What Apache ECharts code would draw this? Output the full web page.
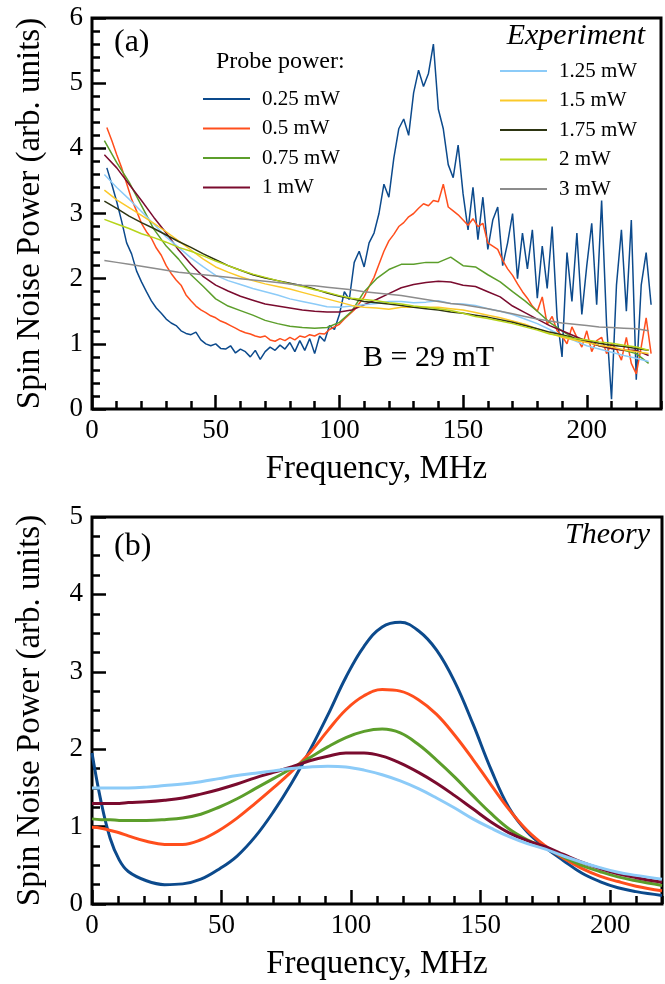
<!DOCTYPE html>
<html>
<head>
<meta charset="utf-8">
<script src="https://cdn.jsdelivr.net/npm/echarts@6.0.0/dist/echarts.min.js"></script>
<style>html,body{margin:0;padding:0;background:#fff}#chart{width:665px;height:984px}</style>
</head>
<body>
<div id="chart"></div>
<script>
// (a) experiment. noisy curves (0.25 / 0.5 mW) read every 2 MHz from 6 MHz, the rest every 5 MHz from 5 MHz
const p025 = [3.70, 3.45, 3.18, 2.88, 2.55, 2.38, 2.12, 1.95, 1.80, 1.66,
  1.55, 1.47, 1.38, 1.32, 1.28, 1.20, 1.16, 1.14, 1.18, 1.06,
  1.00, 0.97, 1.00, 0.93, 0.92, 0.97, 0.86, 0.92, 0.88, 0.80,
  0.90, 0.76, 0.88, 0.95, 0.90, 0.98, 0.92, 1.02, 0.88, 1.05,
  0.90, 1.08, 0.85, 1.12, 1.04, 1.28, 1.22, 1.45, 1.80, 1.68,
  2.25, 2.42, 2.18, 2.55, 2.70, 3.00, 3.45, 3.25, 3.85, 4.30,
  4.45, 4.20, 4.85, 5.20, 4.95, 5.15, 5.60, 4.60, 4.30, 3.75,
  3.55, 4.05, 3.30, 2.75, 3.40, 2.60, 3.25, 2.45, 2.90, 3.10,
  2.20, 2.55, 3.00, 2.00, 2.70, 2.15, 2.75, 1.70, 2.50, 1.85,
  2.80, 1.40, 0.80, 2.40, 1.65, 2.70, 1.45, 2.20, 2.85, 1.60,
  3.20, 1.30, 0.15, 1.90, 2.75, 1.50, 2.90, 0.45, 1.90, 2.40, 1.60];
const p05 = [4.32, 4.12, 3.90, 3.70, 3.46, 3.22, 3.04, 2.85, 2.72, 2.62,
  2.47, 2.36, 2.20, 2.08, 1.98, 1.90, 1.75, 1.66, 1.58, 1.52,
  1.48, 1.43, 1.40, 1.35, 1.32, 1.28, 1.24, 1.20, 1.17, 1.15,
  1.12, 1.10, 1.12, 1.06, 1.04, 1.08, 1.05, 1.10, 1.06, 1.12,
  1.10, 1.14, 1.12, 1.16, 1.15, 1.22, 1.26, 1.30, 1.38, 1.45,
  1.52, 1.62, 1.72, 1.88, 2.02, 2.22, 2.42, 2.58, 2.68, 2.80,
  2.86, 2.95, 3.00, 3.08, 3.15, 3.12, 3.20, 3.18, 3.45, 3.10,
  3.04, 2.98, 2.90, 2.82, 2.92, 2.80, 2.85, 2.55, 2.50, 2.45,
  2.28, 2.15, 2.05, 1.92, 1.80, 1.70, 1.58, 1.50, 1.72, 1.30,
  1.42, 1.20, 1.12, 1.00, 1.26, 1.10, 0.95, 1.20, 0.88, 1.05,
  1.10, 0.85, 1.00, 0.92, 0.75, 1.10, 0.70, 0.54, 0.95, 1.40, 0.85];
const p075 = [4.12, 3.78, 3.48, 3.12, 2.76, 2.50, 2.30, 2.06, 1.88, 1.69,
  1.58, 1.51, 1.44, 1.36, 1.31, 1.27, 1.25, 1.24, 1.25, 1.33,
  1.50, 1.80, 2.00, 2.14, 2.22, 2.22, 2.25, 2.25, 2.33, 2.20,
  2.18, 2.06, 1.95, 1.80, 1.66, 1.50, 1.33, 1.20, 1.08, 1.03,
  0.97, 0.93, 0.90, 0.85, 0.70];
const p1 = [3.90, 3.70, 3.45, 3.20, 2.94, 2.70, 2.44, 2.22, 2.03, 1.90,
  1.81, 1.73, 1.67, 1.61, 1.58, 1.55, 1.52, 1.50, 1.49, 1.49,
  1.52, 1.60, 1.68, 1.77, 1.86, 1.91, 1.94, 1.96, 1.95, 1.90,
  1.88, 1.80, 1.72, 1.58, 1.48, 1.38, 1.28, 1.20, 1.12, 1.04,
  0.97, 0.93, 0.90, 0.90, 0.82];
const p125 = [3.60, 3.40, 3.22, 3.03, 2.84, 2.64, 2.48, 2.32, 2.18, 2.05,
  1.97, 1.91, 1.85, 1.80, 1.75, 1.69, 1.65, 1.61, 1.57, 1.56,
  1.58, 1.60, 1.62, 1.65, 1.65, 1.63, 1.64, 1.66, 1.62, 1.61,
  1.59, 1.54, 1.50, 1.45, 1.38, 1.31, 1.22, 1.12, 1.05, 0.97,
  0.92, 0.87, 0.82, 0.78, 0.73];
const p15 = [3.36, 3.21, 3.09, 2.97, 2.85, 2.72, 2.58, 2.44, 2.30, 2.18,
  2.10, 2.03, 1.97, 1.92, 1.88, 1.84, 1.79, 1.74, 1.69, 1.64,
  1.59, 1.56, 1.55, 1.53, 1.56, 1.56, 1.56, 1.56, 1.54, 1.52,
  1.48, 1.44, 1.40, 1.35, 1.30, 1.23, 1.16, 1.10, 1.06, 1.02,
  0.98, 0.95, 0.91, 0.88, 0.85];
const p175 = [3.19, 3.08, 2.96, 2.86, 2.77, 2.67, 2.57, 2.48, 2.38, 2.29,
  2.20, 2.13, 2.06, 2.01, 1.97, 1.93, 1.89, 1.84, 1.78, 1.73,
  1.69, 1.65, 1.63, 1.61, 1.59, 1.56, 1.54, 1.52, 1.49, 1.47,
  1.44, 1.41, 1.37, 1.33, 1.28, 1.23, 1.18, 1.14, 1.09, 1.05,
  1.01, 0.98, 0.96, 0.93, 0.90];
const p2 = [2.91, 2.84, 2.77, 2.69, 2.63, 2.56, 2.48, 2.42, 2.35, 2.27,
  2.20, 2.13, 2.07, 2.02, 1.97, 1.92, 1.88, 1.83, 1.79, 1.74,
  1.70, 1.68, 1.66, 1.63, 1.61, 1.58, 1.56, 1.54, 1.51, 1.47,
  1.42, 1.39, 1.35, 1.31, 1.26, 1.21, 1.15, 1.12, 1.08, 1.06,
  1.03, 1.01, 0.98, 0.95, 0.90];
const p3 = [2.28, 2.25, 2.22, 2.19, 2.16, 2.13, 2.10, 2.08, 2.06, 2.04,
  2.02, 2.00, 1.98, 1.96, 1.94, 1.92, 1.90, 1.89, 1.87, 1.85,
  1.83, 1.80, 1.78, 1.76, 1.74, 1.71, 1.68, 1.65, 1.62, 1.60,
  1.57, 1.54, 1.50, 1.46, 1.42, 1.38, 1.35, 1.32, 1.30, 1.28,
  1.26, 1.25, 1.24, 1.23, 1.20];

// (b) theory
const thFreq = [0, 3.5, 7, 10.5, 14, 21, 28, 35, 42, 49, 56, 63, 70, 77, 84, 91, 98, 105,
  112, 119, 126, 133, 140, 147, 154, 161, 168, 175, 182, 189, 196, 203, 210, 220];
const t025 = [1.95, 1.32, 0.85, 0.57, 0.42, 0.30, 0.25, 0.26, 0.32, 0.45, 0.62, 0.87, 1.19, 1.56, 1.98, 2.44, 2.93, 3.33,
  3.58, 3.64, 3.53, 3.28, 2.87, 2.33, 1.74, 1.24, 0.93, 0.73, 0.56, 0.40, 0.29, 0.21, 0.16, 0.11];
const t05 = [0.99, 0.98, 0.95, 0.92, 0.88, 0.81, 0.77, 0.77, 0.83, 0.95, 1.11, 1.30, 1.50, 1.71, 1.95, 2.24, 2.51, 2.69,
  2.77, 2.75, 2.64, 2.45, 2.18, 1.87, 1.54, 1.22, 0.95, 0.75, 0.59, 0.46, 0.36, 0.29, 0.23, 0.17];
const t075 = [1.10, 1.09, 1.09, 1.08, 1.08, 1.08, 1.09, 1.11, 1.16, 1.25, 1.36, 1.49, 1.62, 1.75, 1.89, 2.03, 2.15, 2.23,
  2.26, 2.21, 2.06, 1.86, 1.64, 1.40, 1.17, 0.97, 0.83, 0.73, 0.61, 0.50, 0.42, 0.35, 0.30, 0.24];
const t1 = [1.30, 1.30, 1.30, 1.30, 1.31, 1.32, 1.34, 1.37, 1.42, 1.48, 1.55, 1.63, 1.70, 1.77, 1.85, 1.91, 1.95, 1.95,
  1.91, 1.82, 1.70, 1.56, 1.40, 1.23, 1.06, 0.92, 0.82, 0.74, 0.64, 0.54, 0.46, 0.39, 0.34, 0.28];
const t125 = [1.50, 1.50, 1.50, 1.50, 1.50, 1.51, 1.53, 1.55, 1.58, 1.62, 1.66, 1.69, 1.72, 1.75, 1.77, 1.78, 1.77, 1.73,
  1.67, 1.59, 1.49, 1.37, 1.24, 1.10, 0.98, 0.87, 0.78, 0.71, 0.62, 0.54, 0.47, 0.41, 0.37, 0.32];

const legendLeft = ['0.25 mW', '0.5 mW', '0.75 mW', '1 mW'];
const legendRight = ['1.25 mW', '1.5 mW', '1.75 mW', '2 mW', '3 mW'];

const fineFreq = p025.map((_, i) => 6 + 2 * i);
const coarseFreq = p075.map((_, i) => 5 + 5 * i);
const pairs = (xs, ys) => ys.map((v, i) => [xs[i], v]);

const SERIF = '"Liberation Serif", "Times New Roman", serif';
const C = {
  '0.25 mW': '#0c4a8c', '0.5 mW': '#ff4e1c', '0.75 mW': '#5c9e2b', '1 mW': '#7a0b2e',
  '1.25 mW': '#8ccbf8', '1.5 mW': '#fbc92a', '1.75 mW': '#2d3512', '2 mW': '#b6d41a', '3 mW': '#8c8c8c'
};

function expLine(name, xs, ys) {
  return { name, type: 'line', xAxisIndex: 0, yAxisIndex: 0, data: pairs(xs, ys), symbol: 'none',
    lineStyle: { width: 1.5, color: C[name] }, itemStyle: { color: C[name] }, clip: true };
}
function thLine(name, ys) {
  return { name: 'theory ' + name, type: 'line', xAxisIndex: 2, yAxisIndex: 2, data: pairs(thFreq, ys),
    symbol: 'none', smooth: 0.4, lineStyle: { width: 3, color: C[name] },
    itemStyle: { color: C[name] }, clip: true };
}

const tickFont = { fontFamily: SERIF, fontSize: 27, color: '#000' };
const nameFont = { fontFamily: SERIF, fontSize: 33, color: '#000' };

function majorX(grid, max) {
  return { gridIndex: grid, type: 'value', min: 0, max, interval: 50, position: 'bottom',
    axisLine: { show: false, onZero: false },
    axisTick: { inside: true, length: 14, lineStyle: { color: '#000', width: 2.5 } },
    axisLabel: Object.assign({ margin: 8, showMaxLabel: false }, tickFont),
    splitLine: { show: false },
    name: 'Frequency, MHz', nameLocation: 'middle', nameGap: 44, nameTextStyle: nameFont, nameMoveOverlap: false };
}
function minorX(grid, max) {
  return { gridIndex: grid, type: 'value', min: 0, max, interval: 10, position: 'bottom',
    axisLine: { show: false, onZero: false },
    axisTick: { inside: true, length: 8, lineStyle: { color: '#000', width: 2.5 } },
    axisLabel: { show: false }, splitLine: { show: false } };
}
function majorY(grid, max) {
  return { gridIndex: grid, type: 'value', min: 0, max, interval: 1, position: 'left',
    axisLine: { show: false, onZero: false },
    axisTick: { inside: true, length: 14, lineStyle: { color: '#000', width: 2.5 } },
    axisLabel: Object.assign({ margin: 9 }, tickFont),
    splitLine: { show: false },
    name: 'Spin Noise Power (arb. units)', nameLocation: 'middle', nameGap: 45, nameTextStyle: nameFont, nameMoveOverlap: false };
}
function minorY(grid, max, step) {
  return { gridIndex: grid, type: 'value', min: 0, max, interval: step, position: 'left',
    axisLine: { show: false, onZero: false },
    axisTick: { inside: true, length: 8, lineStyle: { color: '#000', width: 2.5 } },
    axisLabel: { show: false }, splitLine: { show: false } };
}

function legendBox(data, left, top) {
  return { data, orient: 'vertical', left, top, padding: 0, itemGap: 7.5, itemWidth: 47, itemHeight: 2,
    icon: 'rect', selectedMode: false,
    textStyle: { fontFamily: SERIF, fontSize: 21, color: '#000', lineHeight: 22, padding: [0, 0, 0, 7] } };
}

function label(text, x, y, size, opts) {
  return Object.assign({ type: 'text', x, y, z: 100,
    style: { text, font: size + 'px ' + SERIF, fill: '#000', textAlign: 'left', align: 'left',
      textVerticalAlign: 'middle', verticalAlign: 'middle' } }, opts || {});
}

const chart = echarts.init(document.getElementById('chart'), null, { renderer: 'canvas' });
chart.setOption({
  animation: false,
  backgroundColor: '#fff',
  grid: [
    { left: 92, top: 18, width: 569, height: 391, show: true, borderColor: '#000', borderWidth: 3,
      backgroundColor: 'transparent', outerBoundsMode: 'none' },
    { left: 92, top: 517, width: 570, height: 387, show: true, borderColor: '#000', borderWidth: 3,
      backgroundColor: 'transparent', outerBoundsMode: 'none' }
  ],
  xAxis: [majorX(0, 230), minorX(0, 230), majorX(1, 220), minorX(1, 220)],
  yAxis: [majorY(0, 6), minorY(0, 6, 0.2), majorY(1, 5), minorY(1, 5, 0.25)],
  legend: [legendBox(legendLeft, 203, 88), legendBox(legendRight, 500, 60)],
  graphic: [
    label('(a)', 114, 43, 32),
    label('(b)', 114, 547, 32),
    label('Probe power:', 216, 62, 24),
    label('B = 29 mT', 363, 358, 30),
    { type: 'text', x: 645, y: 36, z: 100, style: { text: 'Experiment', font: 'italic 30px ' + SERIF, fill: '#000',
      textAlign: 'right', align: 'right', textVerticalAlign: 'middle', verticalAlign: 'middle' } },
    { type: 'text', x: 650, y: 535, z: 100, style: { text: 'Theory', font: 'italic 30px ' + SERIF, fill: '#000',
      textAlign: 'right', align: 'right', textVerticalAlign: 'middle', verticalAlign: 'middle' } }
  ],
  series: [
    expLine('0.25 mW', fineFreq, p025),
    expLine('0.5 mW', fineFreq, p05),
    expLine('0.75 mW', coarseFreq, p075),
    expLine('1 mW', coarseFreq, p1),
    expLine('1.25 mW', coarseFreq, p125),
    expLine('1.5 mW', coarseFreq, p15),
    expLine('1.75 mW', coarseFreq, p175),
    expLine('2 mW', coarseFreq, p2),
    expLine('3 mW', coarseFreq, p3),
    thLine('0.25 mW', t025),
    thLine('0.5 mW', t05),
    thLine('0.75 mW', t075),
    thLine('1 mW', t1),
    thLine('1.25 mW', t125)
  ]
});
</script>
</body>
</html>
